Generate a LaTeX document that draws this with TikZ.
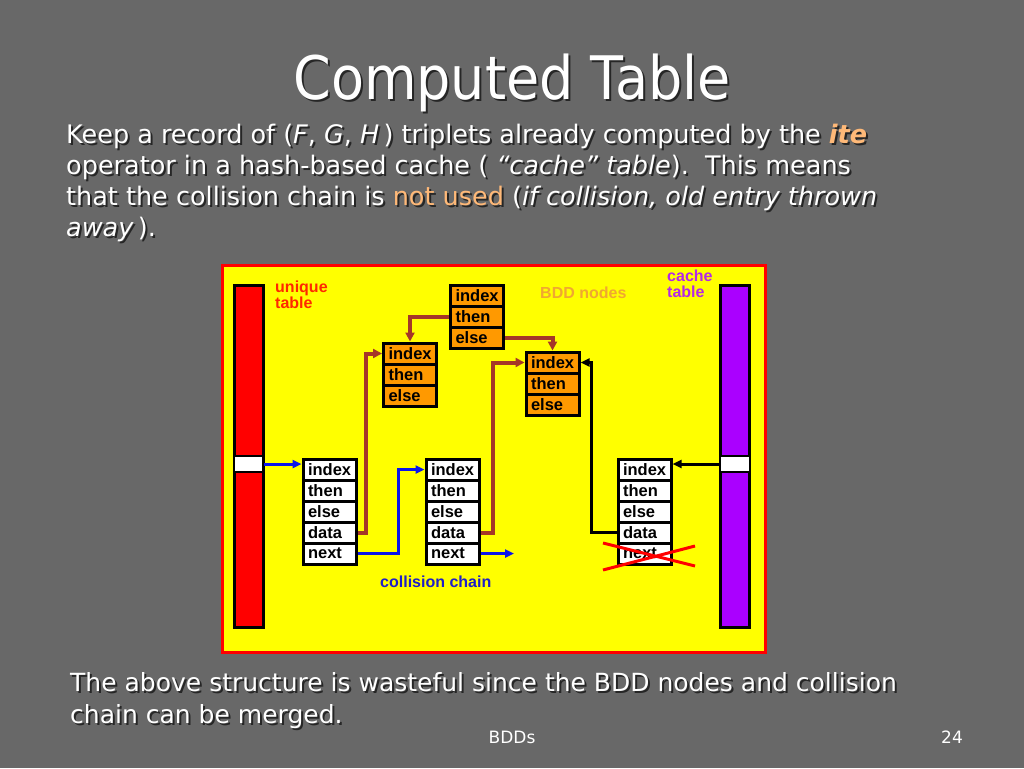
\documentclass[tikz,border=0pt]{standalone}
\usepackage{fontspec}
\setmainfont{DejaVu Sans}
\newfontfamily\titlefont{DejaVu Sans}[FakeStretch=0.9]
\newfontfamily\diagfont{Liberation Sans}
\usetikzlibrary{arrows.meta}

\definecolor{slidebg}{RGB}{104,104,104}
\definecolor{boxyellow}{RGB}{255,255,0}
\definecolor{tablered}{RGB}{255,0,0}
\definecolor{tablepurple}{RGB}{170,0,255}
\definecolor{cellorange}{RGB}{255,153,0}
\definecolor{linkbrown}{RGB}{165,55,40}
\definecolor{linkblue}{RGB}{10,20,235}
\definecolor{bddorange}{RGB}{240,168,48}
\definecolor{hlorange}{RGB}{255,185,120}
\definecolor{uniquered}{RGB}{255,40,0}
\definecolor{cachepurple}{RGB}{180,40,230}
\definecolor{chainblue}{RGB}{30,30,200}

\newcommand\hl[1]{\textcolor{hlorange}{#1}}
\newcommand\shtext[1]{{\renewcommand\hl[1]{##1}\rlap{\kern2pt\raisebox{-2pt}{\color{black!85}#1}}}#1}

\tikzset{
  cell/.style={draw=black, line width=3pt, minimum height=21pt, text width=43pt,
    inner xsep=5pt, inner ysep=0pt, align=left,
    font=\diagfont\bfseries\fontsize{16.5}{16}\selectfont},
  whitecell/.style={cell, fill=white},
  bddcell/.style={cell, fill=cellorange},
  bar/.style={draw=black, line width=3pt, minimum width=29pt, minimum height=342pt, inner sep=0pt},
  slot/.style={draw=black, line width=1.5pt, fill=white, minimum width=29pt, minimum height=16pt, inner sep=0pt},
  chainlink/.style={draw=linkblue, line width=3pt, -{Triangle[length=9pt,width=8pt]}},
  bddlink/.style={draw=linkbrown, line width=4pt, -{Triangle[length=9pt,width=9pt]}},
  cachelink/.style={draw=black, line width=3pt, -{Triangle[length=9pt,width=8pt]}},
  crossout/.style={draw=tablered, line width=3pt},
  tag/.style={font=\diagfont\bfseries\fontsize{16}{16}\selectfont, align=left, inner sep=0pt},
}

\begin{document}
\begin{tikzpicture}[x=1pt,y=-1pt]
  \useasboundingbox (0,0) rectangle (1024,768);
  \fill[slidebg] (0,0) rectangle (1024,768);

  % slide texts
  \node[text=white, font=\titlefont\fontsize{60}{60}\selectfont, inner sep=0] (title) at (512,84) {\shtext{Computed Table}};
  \node[anchor=north west, align=left, text=white, inner sep=0,
        font=\fontsize{25.5}{31}\selectfont] (intro) at (66,124) {%
    \shtext{Keep a record of (\textit{F}, \textit{G}, \textit{H}\,) triplets already computed by the \hl{\textbf{\textit{ite}}}}\\
    \shtext{operator in a hash-based cache ( \textit{“cache” table}).\ \ This means}\\
    \shtext{that the collision chain is \hl{not used} (\textit{if collision, old entry thrown}}\\
    \shtext{\textit{away}\,).}};

  % diagram
  \draw[tablered, line width=3pt, fill=boxyellow] (222,265) rectangle (765,652);

  \node[bar, fill=tablered] (utable) at (248.5,456) {};
  \node[slot] (uslot) at (248.5,464) {};
  \node[bar, fill=tablepurple] (ctable) at (735,456) {};
  \node[slot] (cslot) at (735,464) {};

  \node[tag, text=uniquered, anchor=north west] (uniquelabel) at (275,281) {unique\\table};
  \node[tag, text=cachepurple, anchor=north west] (cachelabel) at (667,270) {cache\\table};
  \node[tag, text=bddorange, anchor=west] (bddlabel) at (540,293) {BDD nodes};
  \node[tag, text=chainblue, anchor=west] (chainlabel) at (380,582) {collision chain};

  \foreach \f [count=\k from 0] in {index,then,else} {
    \node[bddcell] (na-\f) at (477,295.5+21*\k) {\f};
    \node[bddcell] (nb-\f) at (410,353.5+21*\k) {\f};
    \node[bddcell] (nc-\f) at (552.5,362.5+21*\k) {\f};
  }
  \foreach \f [count=\k from 0] in {index,then,else,data,next} {
    \node[whitecell] (ua-\f) at (329.5,469.5+21*\k) {\f};
    \node[whitecell] (ub-\f) at (452.5,469.5+21*\k) {\f};
    \node[whitecell] (cc-\f) at (644.5,469.5+21*\k) {\f};
  }
  \coordinate (chainend) at (514,553.5);

  \draw[chainlink] (uslot.east) -- (uslot.east -| ua-index.west);
  \draw[chainlink] (ua-next.east) -- ++(41,0) |- (ub-index.west);
  \draw[chainlink] (ub-next.east) -- (chainend);

  \draw[bddlink] (ua-data.east) -- ++(8,0) |- (nb-index.west);
  \draw[bddlink] (ub-data.east) -- ++(12,0) |- (nc-index.west);
  \draw[bddlink] (na-then.west) -| (nb-index.north);
  \draw[bddlink] (na-else.east) -| (nc-index.north);

  \draw[cachelink] (cc-data.west) -- ++(-25,0) |- (nc-index.east);
  \draw[cachelink] (cslot.west) -- (cslot.west -| cc-index.east);

  \draw[crossout] ([shift={(-41.5,-10.5)}]cc-next.center) -- ([shift={(50.5,12.5)}]cc-next.center);
  \draw[crossout] ([shift={(-41.5,16.5)}]cc-next.center) -- ([shift={(50.5,-7.5)}]cc-next.center);

  % bottom texts
  \node[anchor=north west, align=left, text=white, inner sep=0,
        font=\fontsize{25}{32}\selectfont] (outro) at (70,672) {%
    \shtext{The above structure is wasteful since the BDD nodes and collision}\\
    \shtext{chain can be merged.}};
  \node[text=white, font=\fontsize{17}{17}\selectfont, inner sep=0] (footer) at (512,737) {BDDs};
  \node[text=white, font=\fontsize{17}{17}\selectfont, inner sep=0] (pagenum) at (952,737) {24};
\end{tikzpicture}
\end{document}
